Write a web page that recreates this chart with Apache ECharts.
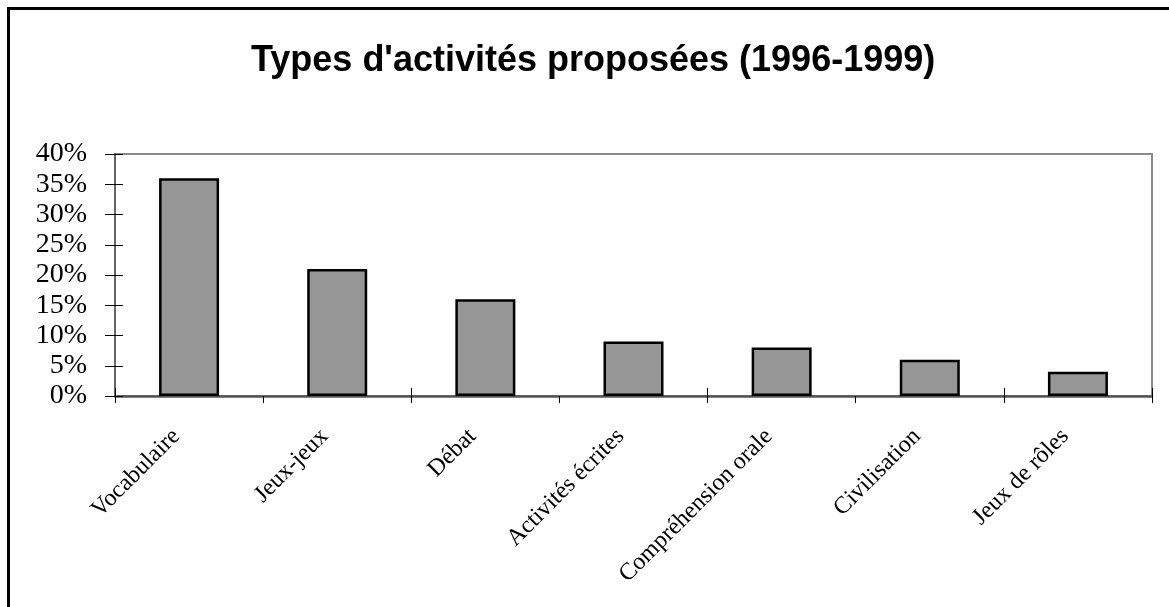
<!DOCTYPE html>
<html>
<head>
<meta charset="utf-8">
<script src="https://cdn.jsdelivr.net/npm/echarts@6/dist/echarts.min.js"></script>
<style>
html,body{margin:0;padding:0;background:#fff;}
#c{width:1169px;height:607px;}
</style>
</head>
<body>
<div id="c"></div>
<script>
const titleText = "Types d'activités proposées (1996-1999)";
const categories = ['Vocabulaire', 'Jeux-jeux', 'Débat', 'Activités écrites', 'Compréhension orale', 'Civilisation', 'Jeux de rôles'];
const values = [36, 21, 16, 9, 8, 6, 4];
const yMin = 0, yMax = 40, yStep = 5;

const chart = echarts.init(document.getElementById('c'));
const serif = '"Liberation Serif", "Times New Roman", serif';
chart.setOption({
  animation: false,
  backgroundColor: '#fff',
  title: {
    text: titleText,
    left: 246,
    top: 38,
    textStyle: { fontFamily: '"Liberation Sans", Arial, sans-serif', fontWeight: 'bold', fontSize: 36, color: '#000' }
  },
  graphic: [{
    type: 'rect',
    shape: { x: 8.5, y: 8.5, width: 1300, height: 800 },
    style: { fill: 'none', stroke: '#000', lineWidth: 3 },
    silent: true
  }],
  grid: {
    left: 115, right: 17, top: 154, bottom: 211,
    show: true, borderColor: '#8a8a8a', borderWidth: 2, backgroundColor: 'transparent'
  },
  xAxis: [{
    type: 'category',
    data: categories,
    boundaryGap: true,
    axisLine: { lineStyle: { color: '#555', width: 2.5 } },
    axisTick: { show: true, length: 7, lineStyle: { color: '#000', width: 1 }, alignWithLabel: false },
    axisLabel: { rotate: 45, margin: 24, padding: [0, 18, 0, 0], fontFamily: serif, fontSize: 24, color: '#000', interval: 0 },
    splitLine: { show: false }
  }, {
    type: 'category',
    data: categories,
    position: 'bottom',
    boundaryGap: true,
    axisLine: { show: false },
    axisTick: { show: true, inside: true, length: 8, lineStyle: { color: '#000', width: 1 } },
    axisLabel: { show: false },
    splitLine: { show: false }
  }],
  yAxis: [{
    type: 'value',
    min: yMin, max: yMax, interval: yStep,
    axisLine: { show: true, lineStyle: { color: '#666', width: 2 } },
    axisTick: { show: true, length: 10, lineStyle: { color: '#000', width: 1 } },
    axisLabel: { margin: 28, fontFamily: serif, fontSize: 28, color: '#000', formatter: v => v + '%' },
    splitLine: { show: false }
  }, {
    type: 'value',
    position: 'left',
    min: yMin, max: yMax, interval: yStep,
    axisLine: { show: false },
    axisTick: { show: true, inside: true, length: 8, lineStyle: { color: '#000', width: 1 } },
    axisLabel: { show: false },
    splitLine: { show: false }
  }],
  series: [{
    type: 'bar',
    xAxisIndex: 0,
    yAxisIndex: 0,
    data: values,
    barWidth: 60,
    itemStyle: { color: '#969696', borderColor: '#000', borderWidth: 2.5 }
  }]
});
</script>
</body>
</html>
